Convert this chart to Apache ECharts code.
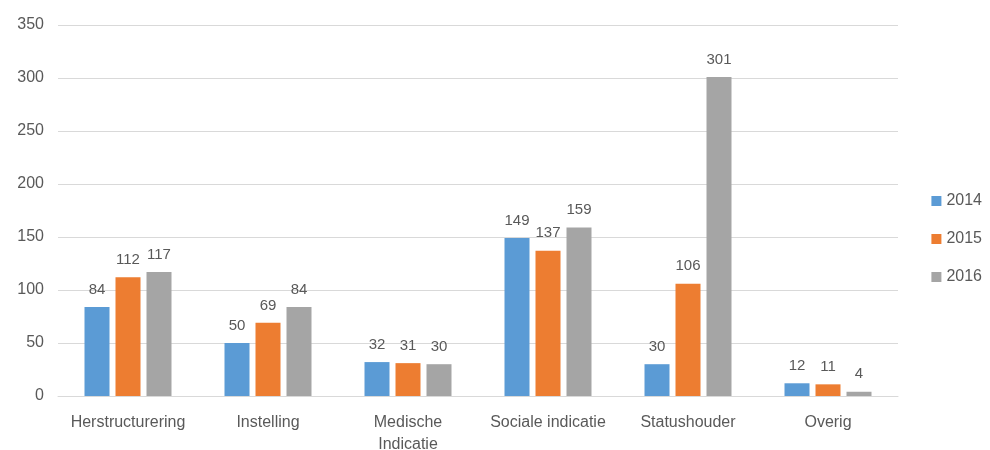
<!DOCTYPE html>
<html><head><meta charset="utf-8">
<script src="https://cdn.jsdelivr.net/npm/echarts@6/dist/echarts.min.js"></script>
<style>html,body{margin:0;padding:0;background:#fff}#c{width:990px;height:450px}</style>
</head><body><div id="c"></div>
<script>
var categories = ['Herstructurering', 'Instelling', 'Medische\nIndicatie', 'Sociale indicatie', 'Statushouder', 'Overig'];
var s2014 = [84, 50, 32, 149, 30, 12];
var s2015 = [112, 69, 31, 137, 106, 11];
var s2016 = [117, 84, 30, 159, 301, 4];
var yTicks = [0, 50, 100, 150, 200, 250, 300, 350];
var font = '"Liberation Sans", "Noto Sans", sans-serif';
var txt = '#595959';
function mk(name, data, color) {
  return {
    name: name, type: 'bar', data: data, barWidth: 25, barGap: '24%',
    itemStyle: { color: color },
    label: { show: true, position: 'top', distance: 10, color: txt, fontSize: 15, fontFamily: font }
  };
}
var chart = echarts.init(document.getElementById('c'));
chart.setOption({
  animation: false,
  grid: { left: 58, right: 92, top: 25, bottom: 54, containLabel: false, outerBoundsMode: 'none' },
  legend: {
    orient: 'vertical', right: 3, top: 188, itemWidth: 10, itemHeight: 10, itemGap: 22,
    icon: 'rect', textStyle: { color: txt, fontSize: 16, fontFamily: font },
    data: ['2014', '2015', '2016']
  },
  xAxis: {
    type: 'category', data: categories,
    axisLine: { show: true, lineStyle: { color: '#d9d9d9' } },
    axisTick: { show: false },
    axisLabel: { color: txt, fontSize: 16, fontFamily: font, margin: 16, interval: 0, lineHeight: 22 }
  },
  yAxis: {
    type: 'value', min: yTicks[0], max: yTicks[yTicks.length - 1], interval: 50,
    axisLine: { show: false }, axisTick: { show: false },
    axisLabel: { color: txt, fontSize: 16, fontFamily: font, margin: 14 },
    splitLine: { lineStyle: { color: '#d9d9d9' } }
  },
  series: [mk('2014', s2014, '#5B9BD5'), mk('2015', s2015, '#ED7D31'), mk('2016', s2016, '#A5A5A5')]
});
</script></body></html>
